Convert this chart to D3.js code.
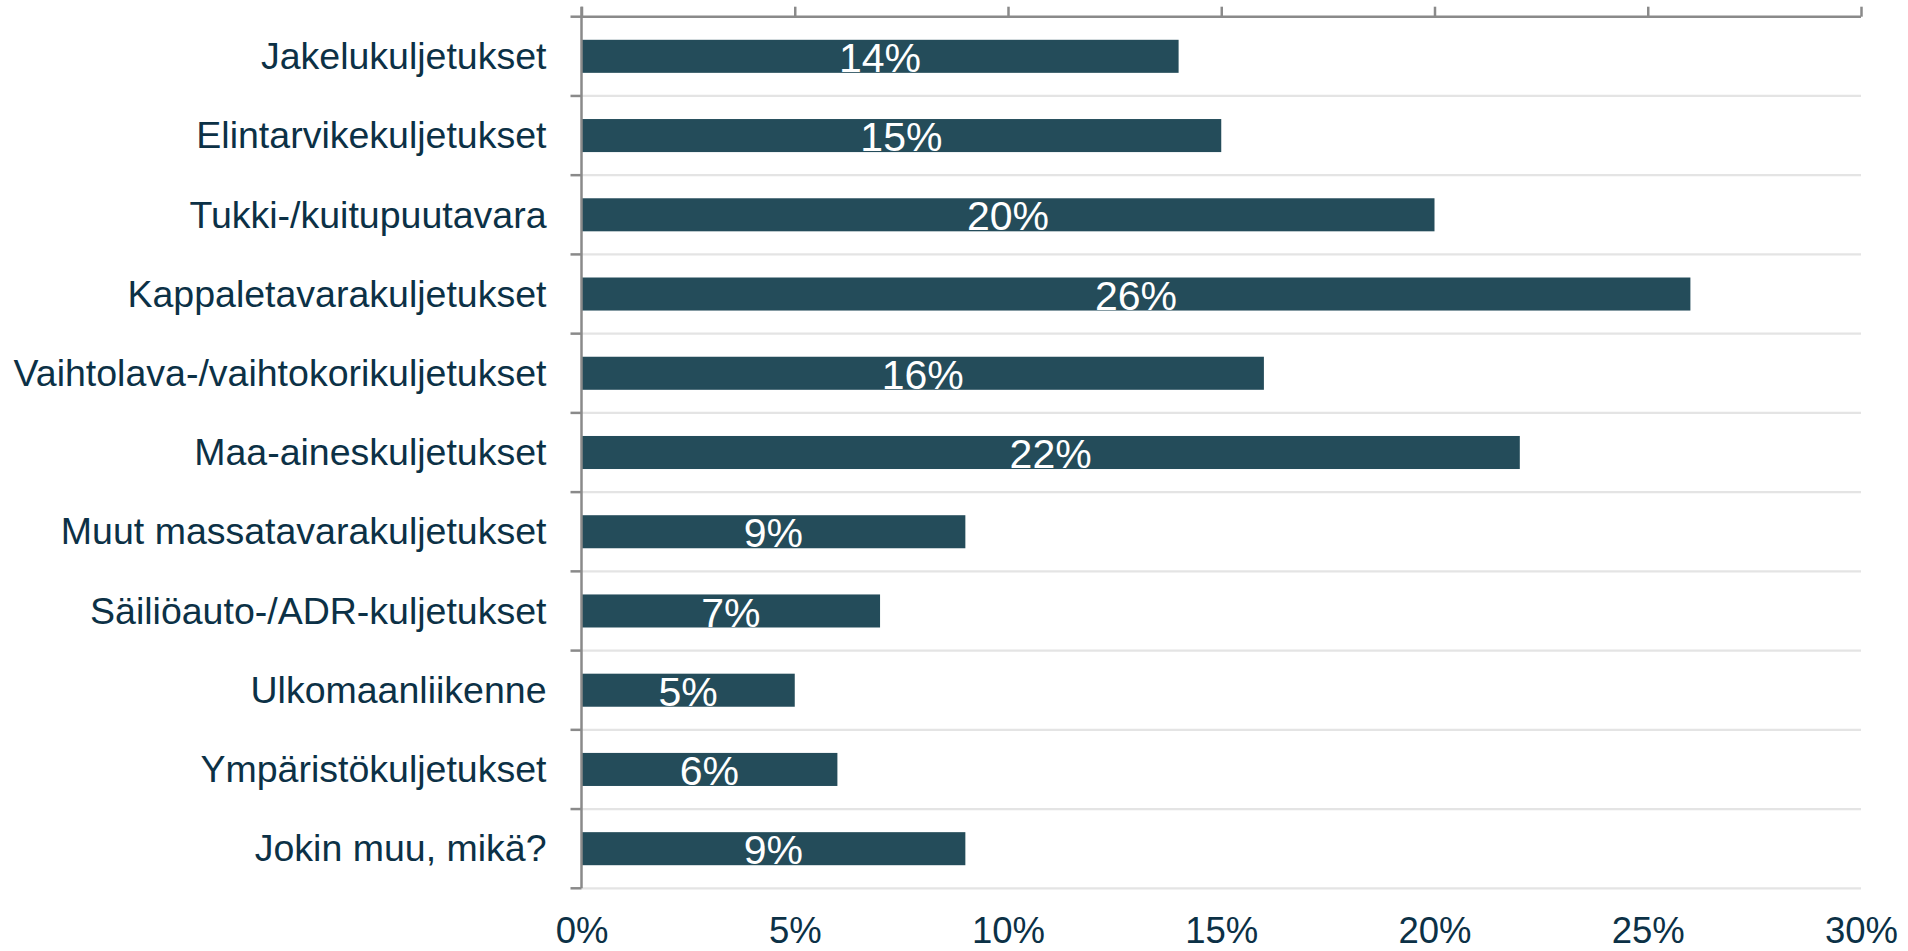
<!DOCTYPE html>
<html>
<head>
<meta charset="utf-8">
<script src="https://cdn.jsdelivr.net/npm/d3@7/dist/d3.min.js"></script>
<style>
html,body{margin:0;padding:0;background:#fff;}
svg{display:block;}
text{font-family:"Liberation Sans",Arial,sans-serif;}
</style>
</head>
<body>
<svg id="chart" width="1908" height="951"></svg>
<script>
const categories = [
  "Jakelukuljetukset",
  "Elintarvikekuljetukset",
  "Tukki-/kuitupuutavara",
  "Kappaletavarakuljetukset",
  "Vaihtolava-/vaihtokorikuljetukset",
  "Maa-aineskuljetukset",
  "Muut massatavarakuljetukset",
  "Säiliöauto-/ADR-kuljetukset",
  "Ulkomaanliikenne",
  "Ympäristökuljetukset",
  "Jokin muu, mikä?"
];
const values = [0.14, 0.15, 0.20, 0.26, 0.16, 0.22, 0.09, 0.07, 0.05, 0.06, 0.09];
const tickValues = [0, 0.05, 0.10, 0.15, 0.20, 0.25, 0.30];

(function () {
const svg = d3.select("#chart");
const mLeft = 581.5, mRight = 1861, mTop = 16.7, mBottom = 888.3;

const x = d3.scaleLinear().domain([0, 0.30]).range([mLeft, mRight]);
const y = d3.scaleBand().domain(categories).range([mTop, mBottom])
  .paddingInner(0.583).paddingOuter(0.2915);

const step = y.step();
const gap = (step - y.bandwidth()) / 2;
const bounds = categories.map(c => y(c) - gap).concat([y(categories[categories.length-1]) - gap + step]);

// gridlines at row boundaries
svg.append("g").selectAll("line").data(bounds.slice(1)).join("line")
  .attr("x1", mLeft).attr("x2", mRight)
  .attr("y1", d => d).attr("y2", d => d)
  .attr("stroke", "#e4e4e4").attr("stroke-width", 2.2);

// bars
svg.append("g").selectAll("rect").data(values).join("rect")
  .attr("x", x(0))
  .attr("y", (d, i) => y(categories[i]))
  .attr("width", d => x(d) - x(0))
  .attr("height", y.bandwidth())
  .attr("fill", "#244c5a");

// top axis (line + upward ticks, no labels)
const topAxis = svg.append("g").attr("transform", `translate(0,${mTop})`)
  .call(d3.axisTop(x).tickValues(tickValues).tickSize(10).tickFormat(""));
topAxis.select(".domain").attr("stroke", "#8a8a8a").attr("stroke-width", 2.5)
  .attr("d", `M${mLeft},0H${mRight}`);
topAxis.selectAll(".tick line").attr("stroke", "#8a8a8a").attr("stroke-width", 2.5);

// left axis line with ticks at boundaries
svg.append("line").attr("x1", mLeft).attr("x2", mLeft).attr("y1", mTop - 10).attr("y2", mBottom)
  .attr("stroke", "#8a8a8a").attr("stroke-width", 2.5);
svg.append("g").selectAll("line").data(bounds).join("line")
  .attr("x1", mLeft - 11).attr("x2", mLeft)
  .attr("y1", d => d).attr("y2", d => d)
  .attr("stroke", "#8a8a8a").attr("stroke-width", 2.5);

// bottom tick labels
const bottomAxis = svg.append("g").attr("transform", `translate(0,${mBottom})`)
  .call(d3.axisBottom(x).tickValues(tickValues).tickSize(0).tickPadding(0)
    .tickFormat(d => Math.round(d * 100) + "%"));
bottomAxis.select(".domain").remove();
bottomAxis.selectAll(".tick text")
  .attr("y", 55).attr("dy", 0)
  .attr("font-size", 36.5).attr("fill", "#0c3146")
  .attr("font-family", "Liberation Sans, Arial, sans-serif");

// category labels
svg.append("g").selectAll("text").data(categories).join("text")
  .attr("x", mLeft - 35)
  .attr("y", d => y(d) + y.bandwidth() / 2)
  .attr("dy", "0.34em")
  .attr("text-anchor", "end")
  .attr("font-size", 37.5)
  .attr("fill", "#0c3146")
  .text(d => d);

// value labels
svg.append("g").selectAll("text").data(values).join("text")
  .attr("x", d => (x(0) + x(d)) / 2)
  .attr("y", (d, i) => y(categories[i]) + y.bandwidth() / 2)
  .attr("dy", "0.38em")
  .attr("text-anchor", "middle")
  .attr("font-size", 41)
  .attr("fill", "#ffffff")
  .text(d => Math.round(d * 100) + "%");
})();
</script>
</body>
</html>
